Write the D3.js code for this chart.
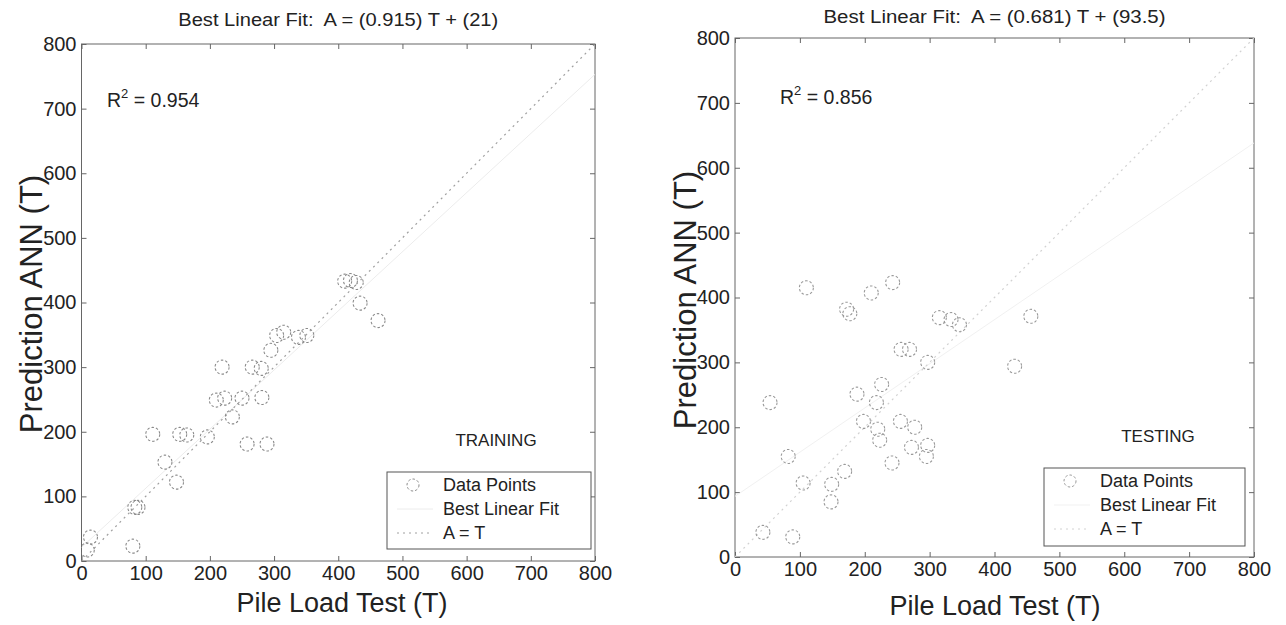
<!DOCTYPE html>
<html>
<head>
<meta charset="utf-8">
<script src="https://cdnjs.cloudflare.com/ajax/libs/d3/7.8.5/d3.min.js"></script>
<style>
    body { margin: 0; background: #fff; }
    svg { font-family: "Liberation Sans", Arial, sans-serif; fill: #222; }
</style>
</head>
<body>
<svg id="chart" width="1286" height="625"></svg>
<script>
// values (T = pile load test, A = ANN prediction)
var ticks = [0, 100, 200, 300, 400, 500, 600, 700, 800];

var trainX = [410, 419, 428, 434, 462, 304, 315, 338, 351, 295, 266, 280, 219, 210, 223, 250,
              281, 235, 258, 289, 111, 153, 164, 196, 130, 148, 83, 88, 14, 9, 80];
var trainY = [433, 434, 431, 399, 372, 349, 354, 346, 349, 326, 300, 298, 300, 249, 252, 252,
              253, 223, 181, 181, 196, 196, 195, 192, 153, 122, 83, 83, 37, 17, 23];

var testX = [110, 172, 177, 210, 243, 256, 269, 297, 315, 333, 346, 456, 431, 226, 188, 218, 54,
             198, 220, 223, 255, 277, 272, 297, 295, 242, 82, 169, 105, 149, 148, 43, 89];
var testY = [415, 382, 375, 407, 423, 320, 320, 300, 369, 366, 358, 371, 294, 266, 251, 238, 238,
             209, 197, 180, 209, 200, 169, 172, 155, 145, 155, 132, 114, 112, 85, 38, 31];

var trainFit = [0.915, 21];   // slope, intercept
var testFit = [0.681, 93.5];
var trainR2 = "0.954";
var testR2 = "0.856";
var legendLabels = ["Data Points", "Best Linear Fit", "A = T"];

var svg = d3.select("#chart");

function drawPanel(p, xs, ys, fit, r2, name) {
    var x = d3.scaleLinear().domain([0, 800]).range([p.x0, p.x1]);
    var y = d3.scaleLinear().domain([0, 800]).range([p.y1, p.y0]);
    var g = svg.append("g");

    g.append("defs").append("clipPath").attr("id", "clip" + name)
        .append("rect")
        .attr("x", p.x0).attr("y", p.y0)
        .attr("width", p.x1 - p.x0).attr("height", p.y1 - p.y0);

    // axes, ticks pointing inward on all four sides
    var axB = g.append("g").attr("transform", "translate(0," + p.y1 + ")")
        .call(d3.axisBottom(x).tickValues(ticks).tickSizeInner(-5).tickSizeOuter(0).tickPadding(5));
    var axL = g.append("g").attr("transform", "translate(" + p.x0 + ",0)")
        .call(d3.axisLeft(y).tickValues(ticks).tickSizeInner(-5).tickSizeOuter(0).tickPadding(5));
    var axT = g.append("g").attr("transform", "translate(0," + p.y0 + ")")
        .call(d3.axisTop(x).tickValues(ticks).tickSizeInner(-5).tickSizeOuter(0).tickFormat(""));
    var axR = g.append("g").attr("transform", "translate(" + p.x1 + ",0)")
        .call(d3.axisRight(y).tickValues(ticks).tickSizeInner(-5).tickSizeOuter(0).tickFormat(""));

    [axB, axL, axT, axR].forEach(function(a) {
        a.select(".domain").remove();
        a.selectAll("line").attr("stroke", "#666");
        a.selectAll("text").attr("font-size", 20).attr("fill", "#222")
            .attr("font-family", "Liberation Sans, Arial, sans-serif");
    });

    g.append("rect")
        .attr("x", p.x0).attr("y", p.y0)
        .attr("width", p.x1 - p.x0).attr("height", p.y1 - p.y0)
        .attr("fill", "none").attr("stroke", "#666").attr("stroke-width", 1);

    var plot = g.append("g").attr("clip-path", "url(#clip" + name + ")");

    // best linear fit (barely visible in the scan)
    plot.append("line")
        .attr("x1", x(0)).attr("y1", y(fit[1]))
        .attr("x2", x(800)).attr("y2", y(fit[0] * 800 + fit[1]))
        .attr("stroke", p.fitColor).attr("stroke-width", 1);

    // A = T
    plot.append("line")
        .attr("x1", x(0)).attr("y1", y(0))
        .attr("x2", x(800)).attr("y2", y(800))
        .attr("stroke", p.refColor).attr("stroke-width", 1.2)
        .attr("stroke-dasharray", "2,4");

    plot.selectAll("circle")
        .data(d3.range(xs.length))
        .enter()
        .append("circle")
        .attr("cx", function(i) { return x(xs[i]); })
        .attr("cy", function(i) { return y(ys[i]); })
        .attr("r", 7)
        .attr("fill", "none")
        .attr("stroke", p.dotColor)
        .attr("stroke-width", 1.1)
        .attr("stroke-dasharray", "2.5,2");

    // title
    g.append("text")
        .attr("x", (p.x0 + p.x1) / 2).attr("y", p.titleY)
        .attr("text-anchor", "middle")
        .attr("font-size", 17.5)
        .style("white-space", "pre")
        .attr("textLength", p.titleW).attr("lengthAdjust", "spacingAndGlyphs")
        .text("Best Linear Fit:  A = (" + fit[0] + ") T + (" + fit[1] + ")");

    // R^2
    var rt = g.append("text")
        .attr("x", p.r2x).attr("y", p.r2y)
        .attr("font-size", 19.5);
    rt.append("tspan").text("R");
    rt.append("tspan").attr("font-size", 13).attr("dy", -9).text("2");
    rt.append("tspan").attr("dy", 9).text(" = " + r2);

    // axis labels
    g.append("text")
        .attr("x", p.xLabX).attr("y", p.xLabY)
        .attr("text-anchor", "middle").attr("font-size", 27)
        .text("Pile Load Test (T)");
    g.append("text")
        .attr("transform", "translate(" + p.yLabX + "," + p.yLabY + ") rotate(-90)")
        .attr("text-anchor", "middle").attr("font-size", 31)
        .text("Prediction ANN (T)");

    // TRAINING / TESTING tag
    g.append("text")
        .attr("x", p.tagX).attr("y", p.tagY)
        .attr("text-anchor", "middle").attr("font-size", 17)
        .text(name);

    // legend
    var lg = g.append("g");
    lg.append("rect")
        .attr("x", p.lx0).attr("y", p.ly0)
        .attr("width", p.lx1 - p.lx0).attr("height", p.ly1 - p.ly0)
        .attr("fill", "#fff").attr("stroke", "#555");
    var rows = lg.selectAll("g.row")
        .data(legendLabels)
        .enter()
        .append("g")
        .attr("class", "row")
        .attr("transform", function(d, i) {
            return "translate(0," + (p.ly0 + 13 + i * 24) + ")";
        });
    rows.append("text")
        .attr("x", p.lx0 + 56).attr("y", 6)
        .attr("font-size", 18)
        .text(function(d) { return d; });
    rows.filter(function(d, i) { return i == 0; })
        .append("circle")
        .attr("cx", p.lx0 + 26).attr("cy", 0).attr("r", 6)
        .attr("fill", "none").attr("stroke", p.dotColor).attr("stroke-dasharray", "2.5,2");
    rows.filter(function(d, i) { return i == 1; })
        .append("line")
        .attr("x1", p.lx0 + 10).attr("x2", p.lx0 + 46)
        .attr("stroke", p.fitColor);
    rows.filter(function(d, i) { return i == 2; })
        .append("line")
        .attr("x1", p.lx0 + 10).attr("x2", p.lx0 + 46)
        .attr("stroke", p.refColor).attr("stroke-dasharray", "2,4");
}

drawPanel({
    x0: 81.5, x1: 595, y0: 44, y1: 561,
    titleY: 26, titleW: 320, r2x: 107, r2y: 107,
    xLabX: 342, xLabY: 612, yLabX: 42, yLabY: 304, tagX: 496, tagY: 446,
    lx0: 387, lx1: 591, ly0: 472, ly1: 549,
    dotColor: "#8a8a8a", refColor: "#a0a0a0", fitColor: "#ececec"
}, trainX, trainY, trainFit, trainR2, "TRAINING");

drawPanel({
    x0: 735, x1: 1254, y0: 38, y1: 557,
    titleY: 23, titleW: 342, r2x: 780, r2y: 104,
    xLabX: 995, xLabY: 615, yLabX: 696, yLabY: 300, tagX: 1158, tagY: 442,
    lx0: 1044, lx1: 1245, ly0: 468, ly1: 546,
    dotColor: "#999", refColor: "#d2d2d2", fitColor: "#f1f1f1"
}, testX, testY, testFit, testR2, "TESTING");
</script>
</body>
</html>
